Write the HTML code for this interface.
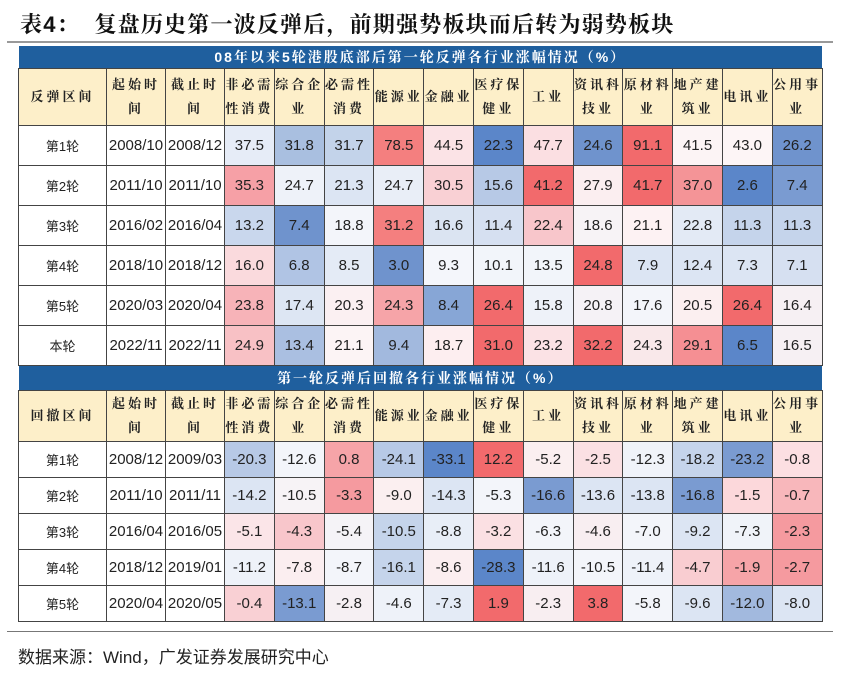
<!DOCTYPE html><html><head><meta charset="utf-8"><style>
body{margin:0;width:864px;height:675px;background:#fff;position:relative;overflow:hidden;font-family:"Liberation Sans","Noto Sans CJK SC",sans-serif}
.t{position:absolute;left:20px;top:8px;font-size:22px;font-weight:bold;font-family:"Liberation Sans","Noto Serif CJK SC",serif;color:#111;letter-spacing:1.2px}
.ln{position:absolute;left:7px;width:826px;height:2px;background:#999}
table{position:absolute;left:18px;border-collapse:collapse;table-layout:fixed;width:804px}
td{border:1px solid #444;text-align:center;font-size:15px;color:#222;padding:0}
.bar td{background:#1f5f9e;color:#fff;font-weight:bold;font-size:14px;height:22px;border:none;border-bottom:1px solid #444;font-family:"Liberation Sans","Noto Serif CJK SC",serif;letter-spacing:2px}
.h td{background:#fdefc9;font-size:13px;font-weight:bold;line-height:24px;font-family:"Liberation Serif","Noto Serif CJK SC",serif;letter-spacing:3px}
.s{position:absolute;left:18px;top:643px;font-size:17px;color:#222}
td.l{font-size:13px}
</style></head><body>
<div class="t">表4：&nbsp;&nbsp;复盘历史第一波反弹后，前期强势板块而后转为弱势板块</div>
<div class="ln" style="top:41px"></div>
<table style="top:46px">
<colgroup><col style="width:88px"><col style="width:59px"><col style="width:59px"><col span="12" style="width:49.8px"></colgroup>
<tr class="bar"><td colspan="15">08年以来5轮港股底部后第一轮反弹各行业涨幅情况（%）</td></tr>
<tr class="h" style="height:57px"><td>反弹区间</td><td>起始时间</td><td>截止时间</td><td>非必需性消费</td><td>综合企业</td><td>必需性消费</td><td>能源业</td><td>金融业</td><td>医疗保健业</td><td>工业</td><td>资讯科技业</td><td>原材料业</td><td>地产建筑业</td><td>电讯业</td><td>公用事业</td></tr>
<tr style="height:40px"><td class="l">第1轮</td><td>2008/10</td><td>2008/12</td><td style="background:#e6ecf7">37.5</td><td style="background:#a9bfe0">31.8</td><td style="background:#c3d3ea">31.7</td><td style="background:#f47f7f">78.5</td><td style="background:#fbe3e6">44.5</td><td style="background:#5b86c9">22.3</td><td style="background:#fbdfe2">47.7</td><td style="background:#6f93cd">24.6</td><td style="background:#f26a6c">91.1</td><td style="background:#fcf4f5">41.5</td><td style="background:#fdf5f6">43.0</td><td style="background:#6f93cd">26.2</td></tr>
<tr style="height:40px"><td class="l">第2轮</td><td>2011/10</td><td>2011/10</td><td style="background:#f6a0a6">35.3</td><td style="background:#eef2f9">24.7</td><td style="background:#dce5f3">21.3</td><td style="background:#e9eef7">24.7</td><td style="background:#f9d0d4">30.5</td><td style="background:#b7c9e6">15.6</td><td style="background:#f26a6c">41.2</td><td style="background:#fbeef0">27.9</td><td style="background:#f26a6c">41.7</td><td style="background:#f49497">37.0</td><td style="background:#5b86c9">2.6</td><td style="background:#7a9bd1">7.4</td></tr>
<tr style="height:40px"><td class="l">第3轮</td><td>2016/02</td><td>2016/04</td><td style="background:#c9d7ed">13.2</td><td style="background:#6f93cd">7.4</td><td style="background:#f3f5fa">18.8</td><td style="background:#f47f7f">31.2</td><td style="background:#dbe4f2">16.6</td><td style="background:#d6e0f1">11.4</td><td style="background:#f8c6cb">22.4</td><td style="background:#f7f3f6">18.6</td><td style="background:#fdf2f3">21.1</td><td style="background:#e3eaf5">22.8</td><td style="background:#c5d4eb">11.3</td><td style="background:#c5d4eb">11.3</td></tr>
<tr style="height:40px"><td class="l">第4轮</td><td>2018/10</td><td>2018/12</td><td style="background:#fadadd">16.0</td><td style="background:#b0c4e4">6.8</td><td style="background:#e4ebf6">8.5</td><td style="background:#6f93cd">3.0</td><td style="background:#f4f6fb">9.3</td><td style="background:#f2f5fa">10.1</td><td style="background:#f2f5fa">13.5</td><td style="background:#f26a6c">24.8</td><td style="background:#dce5f3">7.9</td><td style="background:#dce5f3">12.4</td><td style="background:#dce5f3">7.3</td><td style="background:#d6e0f1">7.1</td></tr>
<tr style="height:40px"><td class="l">第5轮</td><td>2020/03</td><td>2020/04</td><td style="background:#f7b3b8">23.8</td><td style="background:#dde6f3">17.4</td><td style="background:#fbf0f2">20.3</td><td style="background:#f6a4a8">24.3</td><td style="background:#87a6d6">8.4</td><td style="background:#f26a6c">26.4</td><td style="background:#eef2f9">15.8</td><td style="background:#f5f2f6">20.8</td><td style="background:#f3f5fa">17.6</td><td style="background:#fbeff0">20.5</td><td style="background:#f26a6c">26.4</td><td style="background:#f6f0f3">16.4</td></tr>
<tr style="height:40px"><td class="l">本轮</td><td>2022/11</td><td>2022/11</td><td style="background:#f8c1c5">24.9</td><td style="background:#aabfe1">13.4</td><td style="background:#fcf4f5">21.1</td><td style="background:#a2b9de">9.4</td><td style="background:#fdeef0">18.7</td><td style="background:#f26a6c">31.0</td><td style="background:#fbe2e5">23.2</td><td style="background:#f26a6c">32.2</td><td style="background:#f9e8ea">24.3</td><td style="background:#f58f93">29.1</td><td style="background:#5b86c9">6.5</td><td style="background:#f6f0f3">16.5</td></tr>
<tr class="bar"><td colspan="15" style="height:24px;border-top:1px solid #444">第一轮反弹后回撤各行业涨幅情况（%）</td></tr>
<tr class="h" style="height:51px"><td>回撤区间</td><td>起始时间</td><td>截止时间</td><td>非必需性消费</td><td>综合企业</td><td>必需性消费</td><td>能源业</td><td>金融业</td><td>医疗保健业</td><td>工业</td><td>资讯科技业</td><td>原材料业</td><td>地产建筑业</td><td>电讯业</td><td>公用事业</td></tr>
<tr style="height:36px"><td class="l">第1轮</td><td>2008/12</td><td>2009/03</td><td style="background:#b7c9e6">-20.3</td><td style="background:#f3f5fa">-12.6</td><td style="background:#f6a4a8">0.8</td><td style="background:#b7c9e6">-24.1</td><td style="background:#5b86c9">-33.1</td><td style="background:#f26a6c">12.2</td><td style="background:#fbeff0">-5.2</td><td style="background:#fbe0e3">-2.5</td><td style="background:#f0f3f9">-12.3</td><td style="background:#c5d4eb">-18.2</td><td style="background:#7a9bd1">-23.2</td><td style="background:#fcdfe2">-0.8</td></tr>
<tr style="height:36px"><td class="l">第2轮</td><td>2011/10</td><td>2011/11</td><td style="background:#dce5f3">-14.2</td><td style="background:#f7f3f6">-10.5</td><td style="background:#f59a9f">-3.3</td><td style="background:#fbeff0">-9.0</td><td style="background:#dce5f3">-14.3</td><td style="background:#f3f5fa">-5.3</td><td style="background:#7a9bd1">-16.6</td><td style="background:#dce5f3">-13.6</td><td style="background:#dce5f3">-13.8</td><td style="background:#7a9bd1">-16.8</td><td style="background:#fcd8db">-1.5</td><td style="background:#f8b7bb">-0.7</td></tr>
<tr style="height:36px"><td class="l">第3轮</td><td>2016/04</td><td>2016/05</td><td style="background:#fbe5e8">-5.1</td><td style="background:#f8c6cb">-4.3</td><td style="background:#f5f3f7">-5.4</td><td style="background:#c5d4eb">-10.5</td><td style="background:#e8eef7">-8.8</td><td style="background:#fbe0e3">-3.2</td><td style="background:#f3f5fa">-6.3</td><td style="background:#f8eef1">-4.6</td><td style="background:#f3f5fa">-7.0</td><td style="background:#dce5f3">-9.2</td><td style="background:#f0f3f9">-7.3</td><td style="background:#f59a9f">-2.3</td></tr>
<tr style="height:36px"><td class="l">第4轮</td><td>2018/12</td><td>2019/01</td><td style="background:#eef2f9">-11.2</td><td style="background:#fbeef0">-7.8</td><td style="background:#f3f5fa">-8.7</td><td style="background:#c5d4eb">-16.1</td><td style="background:#fbeef0">-8.6</td><td style="background:#5b86c9">-28.3</td><td style="background:#eef2f9">-11.6</td><td style="background:#f3f5fa">-10.5</td><td style="background:#eef2f9">-11.4</td><td style="background:#f9cdd1">-4.7</td><td style="background:#f6a4a8">-1.9</td><td style="background:#f59a9f">-2.7</td></tr>
<tr style="height:36px"><td class="l">第5轮</td><td>2020/04</td><td>2020/05</td><td style="background:#f9d0d4">-0.4</td><td style="background:#7a9bd1">-13.1</td><td style="background:#f6f0f3">-2.8</td><td style="background:#eef2f9">-4.6</td><td style="background:#e4ebf6">-7.3</td><td style="background:#f26a6c">1.9</td><td style="background:#f8eef1">-2.3</td><td style="background:#f26a6c">3.8</td><td style="background:#f3f5fa">-5.8</td><td style="background:#dce5f3">-9.6</td><td style="background:#a2b9de">-12.0</td><td style="background:#dce5f3">-8.0</td></tr>
</table>
<div class="ln" style="top:631px;height:1px;background:#777"></div>
<div class="s">数据来源：Wind，广发证券发展研究中心</div>
</body></html>
